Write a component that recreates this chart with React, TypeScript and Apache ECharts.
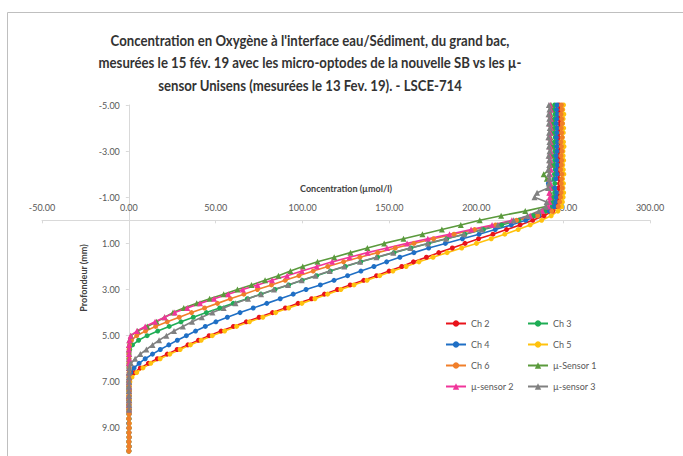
import { useEffect, useRef } from "react";
import * as echarts from "echarts";

// Depth grids (mm)
const DEPTH_OPTODES = [
  -5.0, -4.8, -4.6, -4.4, -4.2, -4.0, -3.8, -3.6, -3.4, -3.2,
  -3.0, -2.8, -2.6, -2.4, -2.2, -2.0, -1.8, -1.6, -1.4, -1.2,
  -1.0, -0.8, -0.6, -0.4, -0.2, 0.0, 0.2, 0.4, 0.6, 0.8,
  1.0, 1.2, 1.4, 1.6, 1.8, 2.0, 2.2, 2.4, 2.6, 2.8,
  3.0, 3.2, 3.4, 3.6, 3.8, 4.0, 4.2, 4.4, 4.6, 4.8,
  5.0, 5.2, 5.4, 5.6, 5.8, 6.0, 6.2, 6.4, 6.6, 6.8,
  7.0, 7.2, 7.4, 7.6, 7.8, 8.0, 8.2, 8.4, 8.6, 8.8,
  9.0, 9.2, 9.4, 9.6, 9.8, 10.0,
];
const DEPTH_SENSORS = [
  -5.0, -4.8, -4.6, -4.4, -4.2, -4.0, -3.8, -3.6, -3.4, -3.2,
  -3.0, -2.8, -2.6, -2.4, -2.2, -2.0, -1.8, -1.6, -1.4, -1.2,
  -1.0, -0.8, -0.6, -0.4, -0.2, 0.0, 0.2, 0.4, 0.6, 0.8,
  1.0, 1.2, 1.4, 1.6, 1.8, 2.0, 2.2, 2.4, 2.6, 2.8,
  3.0, 3.2, 3.4, 3.6, 3.8, 4.0, 4.2, 4.4, 4.6, 4.8,
  5.0, 5.2, 5.4, 5.6, 5.8, 6.0, 6.2, 6.4, 6.6, 6.8,
  7.0, 7.2, 7.4, 7.6, 7.8, 8.0, 8.2,
];

// Concentrations (µmol/l)
const CH2 = [
  247.6, 247.9, 247.4, 247.8, 248.0, 247.5, 247.7, 247.3, 247.8, 248.1,
  247.6, 247.4, 247.9, 247.5, 247.8, 247.2, 247.6, 247.9, 247.3, 247.7,
  247.4, 247.0, 246.6, 244.0, 239.0, 232.5, 225.2, 217.4, 209.6, 201.3,
  193.5, 186.2, 178.4, 171.3, 163.8, 157.1, 149.8, 142.6, 135.2, 127.4,
  120.1, 112.6, 105.2, 97.4, 90.1, 82.7, 75.0, 67.6, 60.2, 53.1,
  46.2, 40.1, 34.0, 27.8, 22.1, 16.4, 11.2, 6.6, 3.1, 1.0,
  0.3, 0.1, 0.2, 0.0, 0.1, 0.0, 0.2, 0.1, 0.0, 0.1,
  0.0, 0.1, 0.2, 0.0, 0.1, 0.0,
];
const CH3 = [
  245.1, 244.8, 245.3, 245.0, 244.7, 245.2, 244.9, 245.4, 245.0, 244.6,
  245.2, 244.9, 245.1, 244.8, 245.3, 245.0, 244.7, 245.2, 244.9, 245.1,
  244.6, 244.3, 243.8, 240.0, 233.0, 224.5, 214.6, 204.1, 193.4, 183.0,
  172.5, 162.4, 152.6, 143.1, 133.5, 124.6, 116.0, 108.1, 99.8, 92.0,
  84.1, 76.0, 68.2, 60.1, 52.3, 44.6, 37.1, 30.0, 23.2, 16.6,
  10.5, 5.6, 2.1, 0.5, 0.1, 0.0, 0.1, 0.0, 0.2, 0.1,
  0.0, 0.1, 0.0, 0.2, 0.1, 0.0, 0.1, 0.0, 0.1, 0.0,
  0.2, 0.0, 0.1, 0.0, 0.1, 0.0,
];
const CH4 = [
  246.5, 246.2, 246.7, 246.3, 246.0, 246.6, 246.4, 246.1, 246.8, 246.3,
  246.5, 246.0, 246.4, 246.7, 246.2, 246.5, 245.8, 241.5, 245.2, 246.3,
  246.0, 245.7, 245.0, 242.0, 236.0, 228.5, 220.1, 210.9, 201.6, 192.0,
  182.2, 172.6, 164.1, 156.0, 148.4, 141.1, 133.6, 125.9, 118.1, 110.2,
  102.0, 94.6, 87.1, 79.4, 71.6, 64.0, 56.7, 50.1, 44.0, 38.4,
  33.1, 27.9, 23.0, 18.1, 13.6, 9.4, 5.9, 3.0, 1.1, 0.3,
  0.1, 0.0, 0.2, 0.1, 0.0, 0.1, 0.0, 0.2, 0.1, 0.0,
  0.1, 0.0, 0.1, 0.0, 0.2, 0.0,
];
const CH5 = [
  250.2, 249.8, 250.4, 250.0, 249.7, 250.3, 250.1, 249.6, 250.2, 250.5,
  249.9, 250.0, 250.3, 249.8, 250.1, 250.4, 249.7, 250.2, 249.9, 250.3,
  250.0, 249.6, 249.2, 247.0, 243.1, 237.6, 231.0, 224.1, 216.4, 208.6,
  200.1, 191.6, 183.2, 175.1, 167.0, 159.6, 152.0, 144.4, 137.1, 129.6,
  122.0, 114.4, 107.1, 99.6, 92.0, 84.5, 77.1, 69.4, 62.0, 55.1,
  48.0, 41.6, 35.4, 29.5, 23.6, 18.0, 12.6, 8.1, 4.5, 1.8,
  0.6, 0.2, 0.1, 0.0, 0.2, 0.1, 0.0, 0.1, 0.0, 0.2,
  0.1, 0.0, 0.1, 0.0, 0.1, 0.0,
];
const CH6 = [
  249.0, 249.3, 248.8, 249.2, 249.5, 248.9, 249.1, 249.4, 248.7, 249.0,
  249.3, 248.8, 249.2, 249.0, 248.6, 249.3, 249.1, 248.9, 249.4, 248.8,
  248.5, 248.0, 247.2, 243.5, 235.4, 223.2, 211.1, 199.0, 187.2, 175.4,
  164.1, 153.4, 143.2, 133.0, 123.6, 114.5, 106.1, 97.9, 90.0, 82.1,
  74.0, 66.2, 58.4, 51.0, 43.6, 36.1, 29.0, 22.1, 15.4, 9.6,
  4.5, 1.5, 0.4, 0.1, 0.0, 0.1, 0.0, 0.2, 0.1, 0.0,
  0.1, 0.0, 0.1, 0.2, 0.0, 0.1, 0.0, 0.1, 0.0, 0.1,
  0.2, 0.0, 0.1, 0.0, 0.1, 0.0,
];
const SENSOR1 = [
  243.0, 243.3, 242.8, 243.2, 242.9, 243.4, 243.0, 242.7, 243.1, 243.3,
  242.8, 243.0, 242.6, 243.2, 242.4, 238.8, 240.6, 242.5, 242.9, 242.6,
  242.8, 242.2, 240.0, 228.2, 214.3, 202.0, 191.1, 180.2, 169.0, 158.1,
  147.0, 137.3, 127.6, 118.2, 108.6, 100.1, 93.0, 86.1, 78.4, 70.6,
  62.5, 54.6, 46.5, 39.1, 31.6, 25.4, 20.6, 16.0, 10.6, 5.1,
  1.2, 0.3, 0.1, 0.0, 0.2, 0.1, 0.0, 0.1, 0.0, 0.2,
  0.1, 0.0, 0.1, 0.0, 0.2, 0.0, 0.1,
];
const SENSOR2 = [
  242.5, 242.8, 242.3, 242.7, 242.4, 242.9, 242.6, 242.2, 242.7, 242.5,
  242.8, 242.3, 242.6, 242.4, 242.9, 242.5, 242.1, 242.6, 242.4, 242.0,
  242.3, 242.1, 241.5, 238.0, 231.0, 220.5, 209.1, 197.0, 184.6, 172.1,
  160.2, 148.6, 137.4, 127.1, 117.0, 108.2, 99.6, 91.1, 82.4, 74.1,
  65.6, 57.2, 49.1, 41.0, 33.6, 26.4, 20.6, 15.1, 9.4, 4.6,
  1.0, 0.3, 0.1, 0.0, 0.1, 0.2, 0.0, 0.1, 0.0, 0.1,
  0.0, 0.2, 0.1, 0.0, 0.1, 0.0, 0.1,
];
const SENSOR3 = [
  241.8, 242.1, 241.6, 242.0, 241.7, 242.3, 241.9, 241.5, 242.1, 241.8,
  242.2, 241.6, 241.9, 242.0, 241.4, 241.8, 242.1, 241.7, 241.3, 235.0,
  233.5, 240.5, 240.0, 236.0, 229.5, 221.5, 212.4, 203.1, 193.0, 182.6,
  172.1, 162.0, 152.2, 142.5, 133.1, 124.0, 115.6, 107.4, 99.5, 91.6,
  83.5, 76.1, 68.6, 61.4, 54.6, 48.1, 42.0, 36.4, 31.1, 26.0,
  21.6, 17.4, 13.6, 10.1, 6.6, 3.6, 1.2, 0.3, 0.1, 0.0,
  0.2, 0.1, 0.0, 0.1, 0.0, 0.2, 0.1,
];

const SERIES_NAMES = ["Ch 2", "Ch 3", "Ch 4", "Ch 5", "Ch 6", "µ-Sensor 1", "µ-sensor 2", "µ-sensor 3"];
const SERIES_VALUES = [CH2, CH3, CH4, CH5, CH6, SENSOR1, SENSOR2, SENSOR3];
const SERIES_DEPTHS = [
  DEPTH_OPTODES, DEPTH_OPTODES, DEPTH_OPTODES, DEPTH_OPTODES, DEPTH_OPTODES,
  DEPTH_SENSORS, DEPTH_SENSORS, DEPTH_SENSORS,
];
const X_MIN = -50;
const X_MAX = 300;
const Y_MIN = -5;
const Y_MAX = 10;
const Y_TICK_VALUES = [-5, -3, -1, 1, 3, 5, 7, 9];
const TITLE_LINES = [
  "Concentration en Oxygène à l'interface eau/Sédiment, du grand bac,",
  "mesurées le 15 fév. 19 avec les micro-optodes de la nouvelle SB vs les µ-",
  "sensor Unisens (mesurées le 13 Fev. 19). - LSCE-714",
];

const COLORS = ["#e8131b", "#1fad55", "#1f6fc5", "#ffc20e", "#f07f2a", "#5a9a3c", "#f0359a", "#808080"];
const SYMBOLS = ["circle", "circle", "circle", "circle", "circle", "triangle", "triangle", "triangle"];

const FONT = "Lato, 'Open Sans', sans-serif";

const W = 683;
const H = 456;
const GRID = { left: 42, right: 33, top: 105, bottom: 5 };

export default function App() {
  const ref = useRef<HTMLDivElement>(null);

  useEffect(() => {
    if (!ref.current) return;
    const chart = echarts.init(ref.current, undefined, { renderer: "svg" });

    // distance of the zero lines from the grid edges (axes cross at 0, as in the original)
    const gridW = W - GRID.left - GRID.right;
    const gridH = H - GRID.top - GRID.bottom;
    const xZeroFromLeft = ((0 - X_MIN) / (X_MAX - X_MIN)) * gridW;
    const yZeroFromTop = ((0 - Y_MIN) / (Y_MAX - Y_MIN)) * gridH;

    const series = SERIES_NAMES.map((name, i) => ({
      name,
      type: "line",
      data: SERIES_DEPTHS[i].map((d, j) => [SERIES_VALUES[i][j], d]),
      symbol: SYMBOLS[i],
      symbolSize: SYMBOLS[i] === "triangle" ? 6 : 5,
      lineStyle: { width: 1.6, color: COLORS[i] },
      itemStyle: { color: COLORS[i] },
      emphasis: { disabled: true },
      silent: true,
    }));

    const legendBase = {
      orient: "vertical",
      itemWidth: 20,
      itemHeight: 8,
      itemGap: 12,
      textStyle: { fontSize: 9, color: "#595959", fontFamily: FONT, lineHeight: 9 },
      selectedMode: false,
    };

    const option = {
      animation: false,
      backgroundColor: "#ffffff",
      textStyle: { fontFamily: FONT },
      graphic: [
        {
          type: "rect",
          z: -10,
          silent: true,
          shape: { x: 7.5, y: 12.5, width: 700, height: 500 },
          style: { fill: "none", stroke: "#bfbfbf", lineWidth: 1 },
        },
        ...TITLE_LINES.map((t, i) => ({
          type: "text",
          x: 310,
          y: 40 + i * 22.5,
          scaleX: 0.85,
          silent: true,
          style: {
            text: t,
            align: "center",
            verticalAlign: "middle",
            textAlign: "center",
            textVerticalAlign: "middle",
            font: `bold 15.5px ${FONT}`,
            fill: "#333333",
          },
        })),
      ],
      grid: { ...GRID, containLabel: false, outerBoundsMode: "none" },
      xAxis: {
        type: "value",
        min: X_MIN,
        max: X_MAX,
        interval: 50,
        position: "top",
        offset: -yZeroFromTop,
        axisLine: { onZero: false, lineStyle: { color: "#d9d9d9", width: 1 } },
        axisTick: { show: true, inside: true, length: 3, lineStyle: { color: "#d9d9d9" } },
        axisLabel: {
          formatter: (v: number) => v.toFixed(2),
          fontSize: 9,
          color: "#595959",
          margin: 8,
          showMinLabel: true,
          showMaxLabel: true,
        },
        splitLine: { show: false },
        name: "Concentration (µmol/l)",
        nameLocation: "middle",
        nameGap: 27,
        nameTextStyle: { fontWeight: "bold", fontSize: 9, color: "#404040" },
      },
      yAxis: {
        type: "value",
        inverse: true,
        min: Y_MIN,
        max: Y_MAX,
        interval: 1,
        offset: -xZeroFromLeft,
        axisLine: { onZero: false, lineStyle: { color: "#d9d9d9", width: 1 } },
        axisTick: { show: true, length: 3, customValues: Y_TICK_VALUES, lineStyle: { color: "#d9d9d9" } },
        axisLabel: {
          customValues: Y_TICK_VALUES,
          formatter: (v: number) => v.toFixed(2),
          fontSize: 9,
          color: "#595959",
          margin: 9,
        },
        splitLine: { show: false },
        name: "Profondeur (mm)",
        nameLocation: "middle",
        nameGap: 38,
        nameTextStyle: { fontWeight: "bold", fontSize: 9, color: "#404040" },
      },
      legend: [
        { ...legendBase, left: 440, top: 314, data: ["Ch 2", "Ch 4", "Ch 6", "µ-sensor 2"] },
        { ...legendBase, left: 522, top: 314, data: ["Ch 3", "Ch 5", "µ-Sensor 1", "µ-sensor 3"] },
      ],
      series,
    };

    chart.setOption(option as any);
    return () => chart.dispose();
  }, []);

  return (
    <div
      ref={ref}
      style={{ position: "fixed", left: 0, top: 0, width: W, height: H, background: "#fff" }}
    />
  );
}
